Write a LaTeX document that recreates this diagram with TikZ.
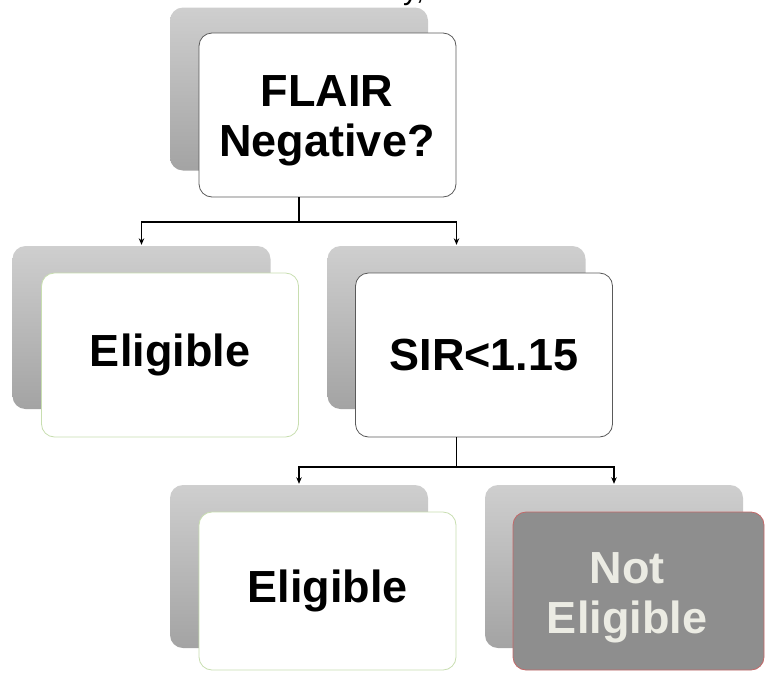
\documentclass[tikz,border=0pt]{standalone}
\usepackage{fontspec}
\setmainfont{Liberation Sans}
\usetikzlibrary{arrows.meta}
\definecolor{darkframe}{RGB}{90,90,90}
\definecolor{greenframe}{RGB}{200,222,176}
\definecolor{redframe}{RGB}{196,104,104}
\definecolor{nefill}{RGB}{142,142,142}
\definecolor{netext}{RGB}{235,235,227}
\tikzset{
  x=1pt, y=-1pt,
  shadowbox/.style={rounded corners=13pt, minimum width=258pt, minimum height=163pt,
    inner sep=0pt, top color=gray!38, bottom color=gray!72, draw=none},
  frontbox/.style={rounded corners=13pt, minimum width=257pt, minimum height=164pt,
    inner sep=0pt, fill=white, draw=darkframe, line width=0.8pt, align=center,
    font=\fontsize{45}{54}\selectfont\bfseries},
  okbox/.style={frontbox, draw=greenframe, fill=white},
  nobox/.style={frontbox, draw=redframe, fill=nefill},
  boxtext/.style={align=center, inner sep=0pt, font=\fontsize{45}{50}\selectfont\bfseries},
  conn/.style={draw=black, line width=1.4pt},
  arr/.style={conn, -{Stealth[length=6.5pt,width=5.5pt]}, shorten >=1pt},
}
\begin{document}
\begin{tikzpicture}
\useasboundingbox (0,0) rectangle (765,672);
% cut-off text at the top edge, as in the reference
\node[anchor=base west, inner sep=0pt, font=\fontsize{30}{36}\selectfont] (cut) at (403,-1) {y,};
% shadows
\node[shadowbox] (s1) at (299,89) {};
\node[shadowbox] (s2) at (141.5,327.5) {};
\node[shadowbox] (s3) at (456.5,327.5) {};
\node[shadowbox] (s4) at (299,566.5) {};
\node[shadowbox] (s5) at (614,566.5) {};
% front boxes
\node[frontbox] (f1) at (327.5,115) {};
\node[boxtext] (t1) at (327,121) {FLAIR\\Negative?};
\node[okbox] (f2) at (170,355) {Eligible};
\node[frontbox] (f3) at (484,355) {SIR<1.15};
\node[okbox, minimum height=158pt] (f4) at (327.5,591) {Eligible};
\node[nobox, minimum height=158pt, minimum width=251pt] (f5) at (638.5,591) {};
\node[boxtext, text=netext] (t5) at (627,598) {Not\\Eligible};
% connectors
\coordinate (j1) at (299,222);
\coordinate (j2) at (456.5,467);
\draw[conn] (s1.center |- f1.south) -- (j1);
\draw[arr] (j1) -| (s2.north);
\draw[arr] (j1) -| (s3.north);
\draw[conn] (s3.center |- f3.south) -- (j2);
\draw[arr] (j2) -| (s4.north);
\draw[arr] (j2) -| (s5.north);
\end{tikzpicture}
\end{document}
